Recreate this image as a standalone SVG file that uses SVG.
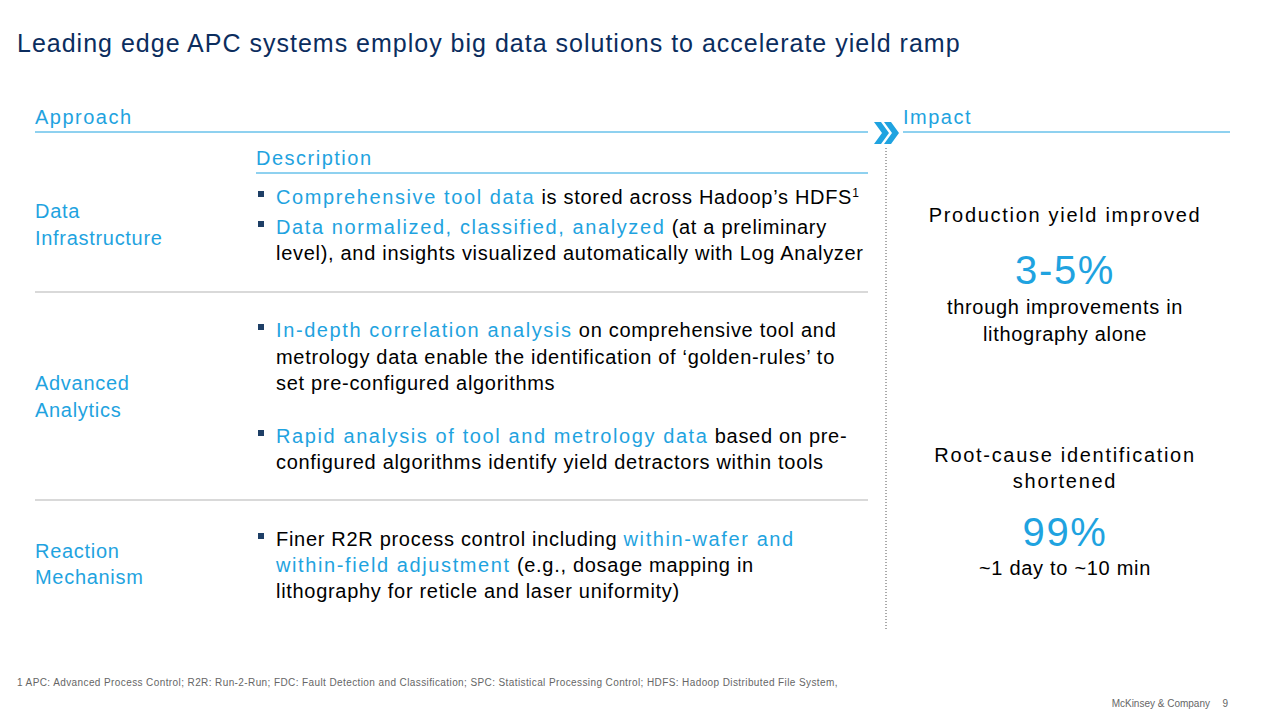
<svg xmlns="http://www.w3.org/2000/svg" width="1280" height="720" viewBox="0 0 1280 720">
<style>
text{font-family:"Liberation Sans",Arial,sans-serif}
.b{fill:#1fa3e0;letter-spacing:1.6px}
.h{font-size:20px;letter-spacing:1.5px}
.t{font-size:20px;letter-spacing:0.7px}
.sp{letter-spacing:1.7px}
.hl{stroke:#1fa3e0;stroke-width:1}
.gl{stroke:#b3b3b3;stroke-width:1}
.sq{fill:#1e3f66}
</style>
<rect width="1280" height="720" fill="#fff"/>
<text x="17" y="52" font-size="25" letter-spacing="1" fill="#0b2d5e">Leading edge APC systems employ big data solutions to accelerate yield ramp</text>
<text x="35" y="124" class="h b">Approach</text>
<text x="903" y="124" class="h b">Impact</text>
<text x="256" y="165" class="h b">Description</text>
<g id="connectors">
<line x1="35" y1="132" x2="868" y2="132" class="hl"/>
<line x1="903" y1="132" x2="1230" y2="132" class="hl"/>
<line x1="256" y1="173" x2="868" y2="173" class="hl"/>
<line x1="35" y1="292" x2="868" y2="292" class="gl"/>
<line x1="35" y1="500" x2="868" y2="500" class="gl"/>
<line x1="886" y1="148" x2="886" y2="630" stroke="#555" stroke-width="1" stroke-dasharray="1,2"/>
<polygon points="874,122 881,122 889,133 881,144 874,144 882,133" fill="#1fa3e0"/>
<polygon points="884,122 891,122 899,133 891,144 884,144 892,133" fill="#1fa3e0"/>
</g>
<g id="row1">
<text x="35" y="218" class="t b">Data</text>
<text x="35" y="245" class="t b">Infrastructure</text>
<rect x="258" y="191" width="6" height="6" class="sq"/>
<text x="276" y="204" class="t"><tspan class="b">Comprehensive tool data</tspan> is stored across Hadoop’s HDFS<tspan font-size="12" dy="-7">1</tspan></text>
<rect x="258" y="221" width="6" height="6" class="sq"/>
<text x="276" y="234" class="t"><tspan class="b">Data normalized, classified, analyzed</tspan> (at a preliminary</text>
<text x="276" y="260" class="t">level), and insights visualized automatically with Log Analyzer</text>
</g>
<g id="row2">
<text x="35" y="390" class="t b">Advanced</text>
<text x="35" y="417" class="t b">Analytics</text>
<rect x="258" y="324" width="6" height="6" class="sq"/>
<text x="276" y="337" class="t"><tspan class="b">In-depth correlation analysis</tspan> on comprehensive tool and</text>
<text x="276" y="364" class="t">metrology data enable the identification of ‘golden-rules’ to</text>
<text x="276" y="390" class="t">set pre-configured algorithms</text>
<rect x="258" y="430" width="6" height="6" class="sq"/>
<text x="276" y="443" class="t"><tspan class="b">Rapid analysis of tool and metrology data</tspan> based on pre-</text>
<text x="276" y="469" class="t">configured algorithms identify yield detractors within tools</text>
</g>
<g id="row3">
<text x="35" y="558" class="t b">Reaction</text>
<text x="35" y="584" class="t b">Mechanism</text>
<rect x="258" y="533" width="6" height="6" class="sq"/>
<text x="276" y="546" class="t">Finer R2R process control including <tspan class="b">within-wafer and</tspan></text>
<text x="276" y="572" class="t"><tspan class="b">within-field adjustment</tspan> (e.g., dosage mapping in</text>
<text x="276" y="598" class="t">lithography for reticle and laser uniformity)</text>
</g>
<g id="impact1" text-anchor="middle">
<text x="1065" y="222" class="t sp">Production yield improved</text>
<text x="1065" y="284" font-size="40" class="b" letter-spacing="1">3-5%</text>
<text x="1065" y="314" class="t">through improvements in</text>
<text x="1065" y="341" class="t">lithography alone</text>
</g>
<g id="impact2" text-anchor="middle">
<text x="1065" y="462" class="t sp">Root-cause identification</text>
<text x="1065" y="488" class="t sp">shortened</text>
<text x="1065" y="546" font-size="40" class="b" letter-spacing="1">99%</text>
<text x="1065" y="575" class="t">~1 day to ~10 min</text>
</g>
<text x="17" y="686" font-size="10" letter-spacing="0.4" fill="#666">1 APC: Advanced Process Control; R2R: Run-2-Run; FDC: Fault Detection and Classification; SPC: Statistical Processing Control; HDFS: Hadoop Distributed File System,</text>
<text x="1210" y="707" font-size="10" fill="#666" text-anchor="end">McKinsey &amp; Company</text>
<text x="1228" y="707" font-size="10" fill="#666" text-anchor="end">9</text>
</svg>
